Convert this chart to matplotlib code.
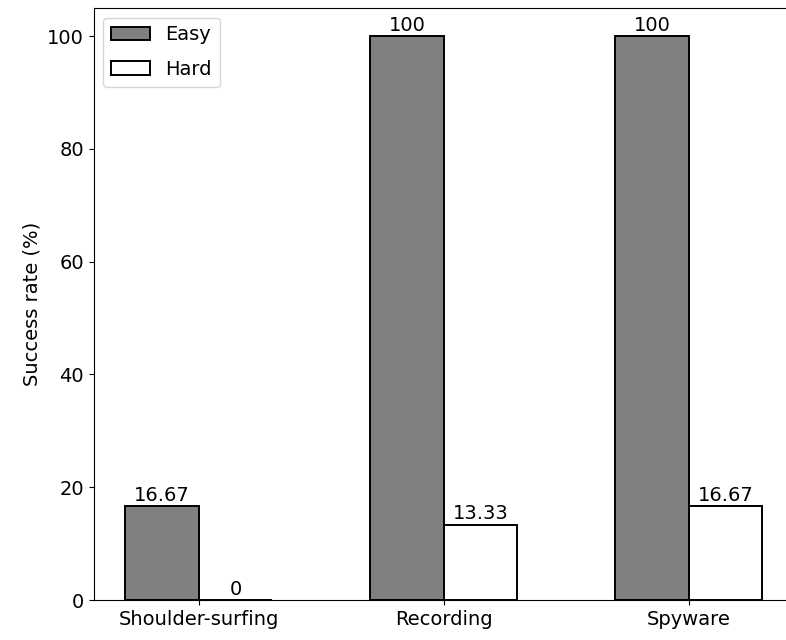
import numpy as np
import matplotlib
matplotlib.use("Agg")
import matplotlib.pyplot as plt

# data
attacks = ["Shoulder-surfing", "Recording", "Spyware"]
easy = [16.67, 100, 100]
hard = [0, 13.33, 16.67]

plt.rcParams['font.size'] = 14

fig = plt.figure(figsize=(7.86, 6.4), dpi=100)
ax = fig.add_axes([93.6 / 786, 40 / 640, 700.7 / 786, 592.2 / 640])

x = np.arange(len(attacks))
w = 0.3
b1 = ax.bar(x - w / 2, easy, w, color='gray', edgecolor='black', linewidth=1.4, label='Easy')
b2 = ax.bar(x + w / 2, hard, w, color='white', edgecolor='black', linewidth=1.4, label='Hard')

ax.bar_label(b1, fmt='%g', padding=1)
ax.bar_label(b2, fmt='%g', padding=1)

ax.set_xticks(x)
ax.set_xticklabels(attacks)
ax.set_ylabel("Success rate (%)")
ax.legend(loc='upper left', labelspacing=0.8)

fig.savefig("out.png", dpi=100)
